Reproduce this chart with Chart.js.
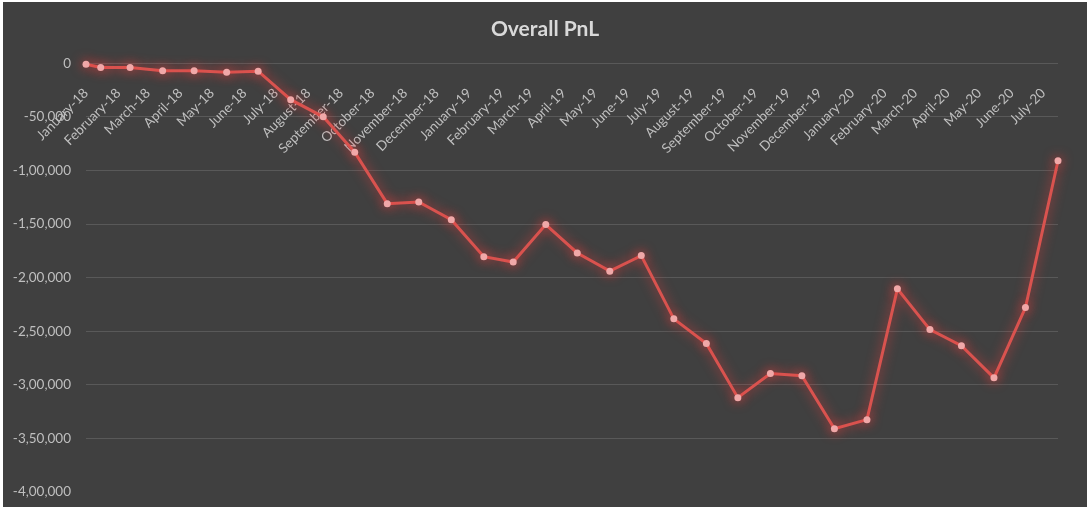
<!DOCTYPE html>
<html lang="en">
<head>
  <meta charset="UTF-8">
  <title>Overall PnL</title>
  <script src="https://cdn.jsdelivr.net/npm/chart.js"></script>
  <style>
    body { margin: 0; background: #ffffff; }
    #wrap { position: absolute; left: 3px; top: 2px; width: 1084px; height: 505px; background: #404040; }
  </style>
</head>
<body>
  <div id="wrap"><canvas id="pnlChart"></canvas></div>

  <script>
    // month-end closing dates (first point is the starting value)
    const pointDates = [
      '2018-01-17', '2018-01-31', '2018-02-28', '2018-03-31', '2018-04-30', '2018-05-31',
      '2018-06-30', '2018-07-31', '2018-08-31', '2018-09-30', '2018-10-31', '2018-11-30',
      '2018-12-31', '2019-01-31', '2019-02-28', '2019-03-31', '2019-04-30', '2019-05-31',
      '2019-06-30', '2019-07-31', '2019-08-31', '2019-09-30', '2019-10-31', '2019-11-30',
      '2019-12-31', '2020-01-31', '2020-02-29', '2020-03-31', '2020-04-30', '2020-05-31',
      '2020-06-30', '2020-07-31'
    ];
    const pnl = [
      -1000, -4000, -4000, -7000, -7000, -8500,
      -7500, -34000, -50000, -83000, -131000, -129500,
      -146000, -180500, -185500, -150500, -177000, -194000,
      -179500, -238500, -261500, -312000, -289500, -291500,
      -341000, -332500, -210500, -248500, -263500, -293500,
      -228000, -91000
    ];
    const monthLabels = [
      'January-18', 'February-18', 'March-18', 'April-18', 'May-18', 'June-18',
      'July-18', 'August-18', 'September-18', 'October-18', 'November-18', 'December-18',
      'January-19', 'February-19', 'March-19', 'April-19', 'May-19', 'June-19',
      'July-19', 'August-19', 'September-19', 'October-19', 'November-19', 'December-19',
      'January-20', 'February-20', 'March-20', 'April-20', 'May-20', 'June-20',
      'July-20'
    ];
    const yTicks = [0, -50000, -100000, -150000, -200000, -250000, -300000, -350000, -400000];

    const DAY = 86400000;
    const toDay = s => Date.parse(s + 'T00:00:00Z') / DAY;
    // axis ticks every month from the first date (Excel date axis style)
    const tickDays = monthLabels.map((_, i) => Date.UTC(2018, i, 17) / DAY);

    // Indian digit grouping: -1,50,000
    function fmtIN(v) {
      const sign = v < 0 ? '-' : '';
      const s = String(Math.abs(v));
      if (s.length <= 3) return sign + s;
      const rest = s.slice(0, -3).replace(/\B(?=(\d{2})+(?!\d))/g, ',');
      return sign + rest + ',' + s.slice(-3);
    }

    const glow = {
      id: 'glow',
      beforeDatasetsDraw(chart) {
        const c = chart.ctx;
        c.save();
        c.shadowColor = 'rgba(255, 60, 60, 0.8)';
        c.shadowBlur = 12;
      },
      afterDatasetsDraw(chart) {
        chart.ctx.restore();
      }
    };

    const textColor = '#bfbfbf';

    new Chart(document.getElementById('pnlChart'), {
      type: 'line',
      data: {
        datasets: [{
          label: 'Overall PnL',
          data: pointDates.map((d, i) => ({ x: toDay(d), y: pnl[i] })),
          borderColor: '#d9534f',
          borderWidth: 3,
          pointRadius: 3.5,
          pointBackgroundColor: '#f0a8a8',
          pointBorderColor: '#f0a8a8',
          pointBorderWidth: 0,
          tension: 0,
          clip: false
        }]
      },
      options: {
        responsive: true,
        maintainAspectRatio: false,
        animation: false,
        layout: { padding: { left: 0, right: 0, top: 0, bottom: 15 } },
        plugins: {
          legend: { display: false },
          tooltip: { enabled: false },
          title: {
            display: true,
            text: 'Overall PnL',
            color: '#d9d9d9',
            font: { family: 'Lato', size: 21, weight: 'bold' },
            padding: { top: 15, bottom: 21 }
          }
        },
        scales: {
          x: {
            type: 'linear',
            position: { y: 0 },
            min: toDay(pointDates[0]),
            max: toDay(pointDates[pointDates.length - 1]),
            grid: { display: false },
            border: { display: false },
            afterBuildTicks: scale => { scale.ticks = tickDays.map(v => ({ value: v })); },
            afterFit: scale => { scale.height = 0; },
            ticks: {
              autoSkip: false,
              minRotation: 45,
              maxRotation: 45,
              padding: 14,
              color: textColor,
              font: { family: 'Lato', size: 13.5 },
              callback: (value, index) => monthLabels[index]
            }
          },
          y: {
            min: -400000,
            max: 0,
            afterBuildTicks: scale => { scale.ticks = yTicks.map(v => ({ value: v })); },
            afterFit: scale => { scale.width = 83; scale.paddingBottom = 8; },
            grid: {
              drawTicks: false,
              color: ctx => ctx.tick && ctx.tick.value === -400000 ? 'rgba(0,0,0,0)' : '#595959'
            },
            border: { display: false },
            ticks: {
              padding: 15,
              color: textColor,
              font: { family: 'Lato', size: 13.5 },
              callback: v => fmtIN(v)
            }
          },
          // empty right-hand spacer so the title stays centred on the whole chart
          spacer: {
            type: 'linear',
            axis: 'y',
            position: 'right',
            grid: { display: false },
            border: { display: false },
            ticks: { display: false },
            afterFit: scale => { scale.width = 29; scale.paddingTop = 0; scale.paddingBottom = 0; }
          }
        }
      },
      plugins: [glow]
    });
  </script>
</body>
</html>
